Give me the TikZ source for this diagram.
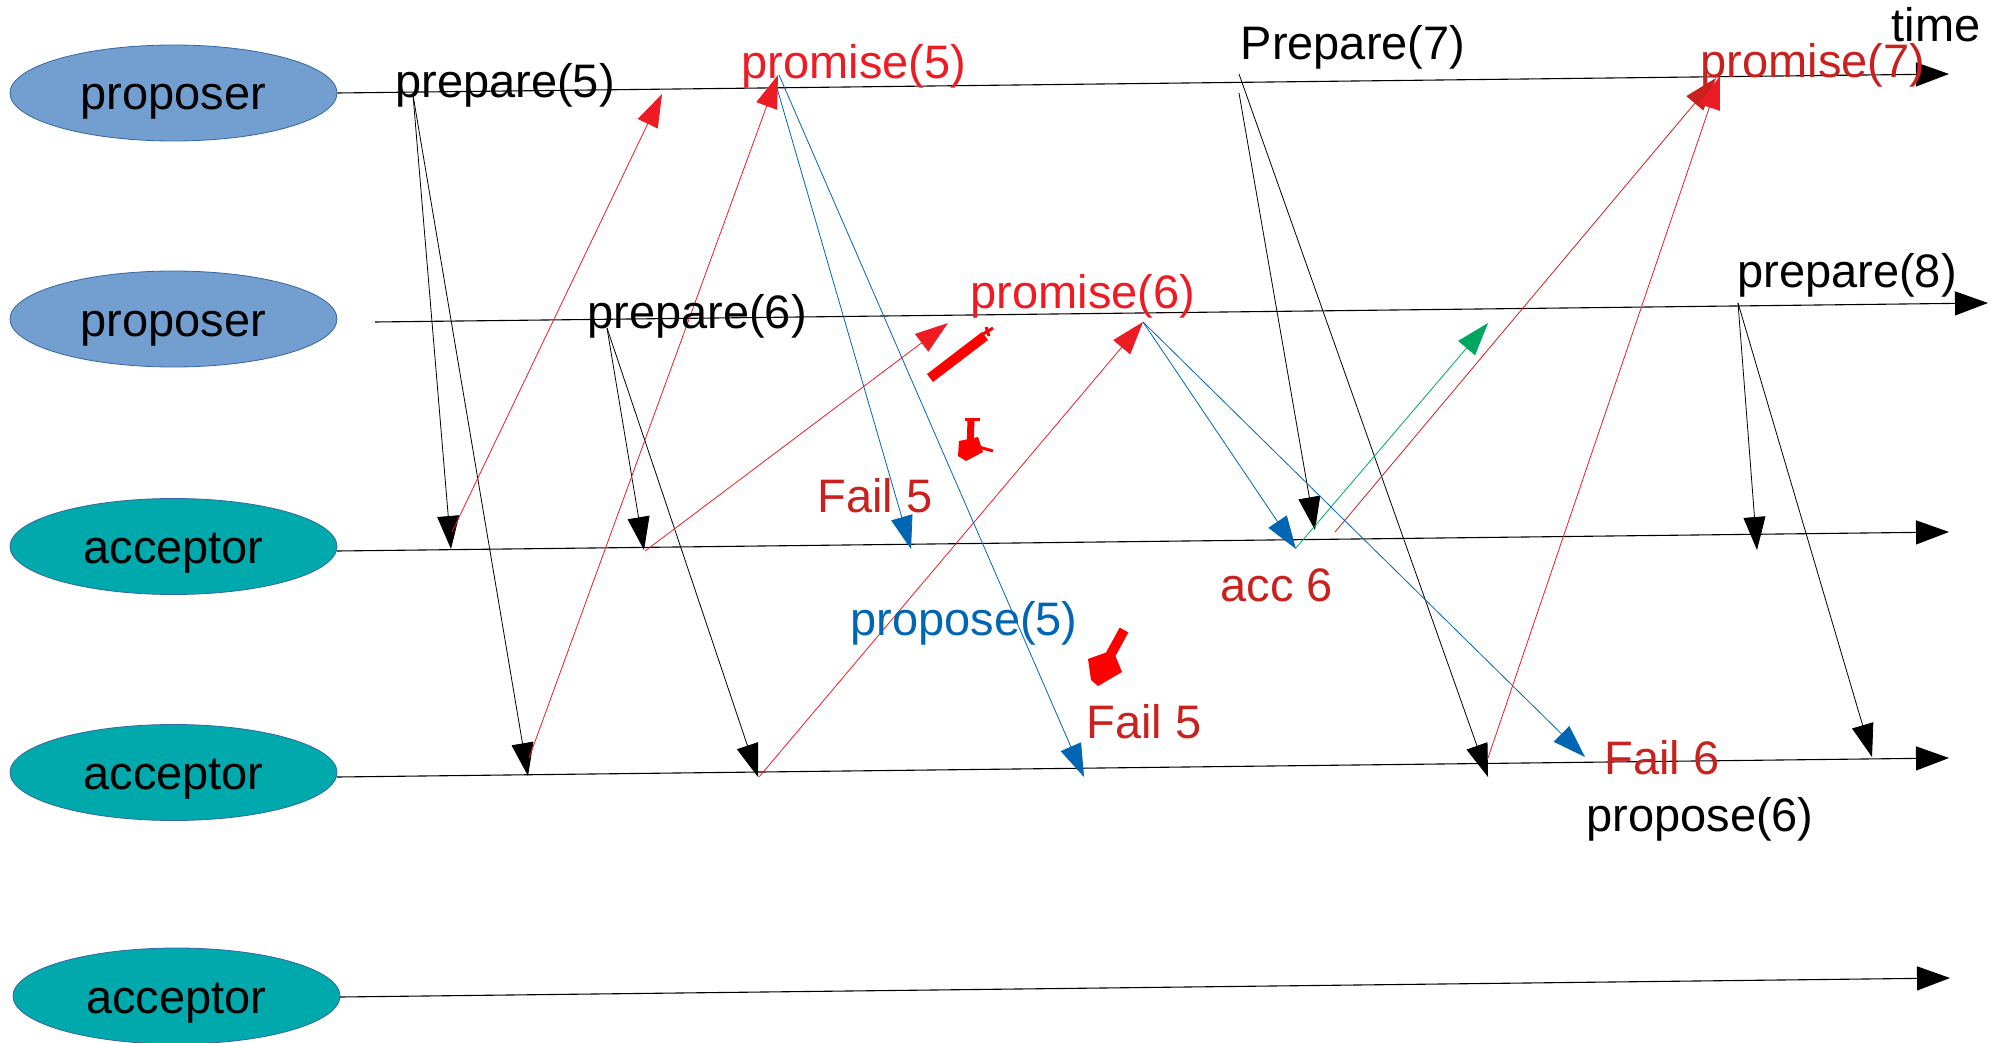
\documentclass[tikz,border=0pt]{standalone}
\usepackage{fontspec}
\setmainfont{Liberation Sans}
\usetikzlibrary{arrows.meta,shapes.geometric}
\definecolor{propfill}{HTML}{729FCF}
\definecolor{accfill}{HTML}{00A9AC}
\definecolor{edgeblue}{HTML}{3465A4}
\definecolor{msgred}{HTML}{ED1C24}
\definecolor{darkred}{HTML}{C9211E}
\definecolor{msgblue}{HTML}{0066B3}
\definecolor{msggreen}{HTML}{00A65D}
\definecolor{scrib}{HTML}{FF0000}
\begin{document}
\begin{tikzpicture}[x=1pt,y=-1pt,
  font=\fontsize{47pt}{52pt}\selectfont,
  actor/.style={ellipse, draw=edgeblue, line width=0.8pt, minimum width=327pt,
    minimum height=96pt, inner sep=0pt, text height=34pt, text depth=0pt},
  proposerbox/.style={actor, fill=propfill},
  acceptorbox/.style={actor, fill=accfill},
  lifeline/.style={line width=1.1pt, -{Triangle[length=33pt,width=24pt]}},
  msg/.style={line width=0.8pt, -{Triangle[length=33pt,width=22pt]}},
  lbl/.style={anchor=base, inner sep=0pt},
  scribble/.style={draw=scrib, line width=10pt}]
\useasboundingbox (0,0) rectangle (1989,1043);

% actors
\node[proposerbox] (P1) at (173.5,93) {proposer};
\node[proposerbox] (P2) at (173.5,319) {proposer};
\node[acceptorbox] (A1) at (173.5,546.5) {acceptor};
\node[acceptorbox] (A2) at (173.5,772.5) {acceptor};
\node[acceptorbox] (A3) at (176.5,996) {acceptor};

% lifeline coordinates
\coordinate (P1e) at (1949,74);
\coordinate (P2s) at (375,322);
\coordinate (P2e) at (1988,303);
\coordinate (A1s) at (337,551);
\coordinate (A1e) at (1949,532);
\coordinate (A2s) at (337,777);
\coordinate (A2e) at (1949,758);
\coordinate (A3s) at (340,997);
\coordinate (A3e) at (1950,978);

\draw[lifeline] (P1.east) -- (P1e);
\draw[lifeline] (P2s) -- (P2e);
\draw[lifeline] (A1s) -- (A1e);
\draw[lifeline] (A2s) -- (A2e);
\draw[lifeline] (A3s) -- (A3e);

% event coordinates
\coordinate (prep5) at (413,95);
\coordinate (prep5a1) at (451,549);
\coordinate (prep5a2) at (528,776);
\coordinate (prep6) at (607,328);
\coordinate (prep6a1) at (644,550);
\coordinate (prep6a2) at (758,777);
\coordinate (prep7a) at (1239,93);
\coordinate (prep7b) at (1239,74);
\coordinate (prep7a1) at (1315,530);
\coordinate (prep7a2) at (1488,777);
\coordinate (prep8) at (1738,303);
\coordinate (prep8a1) at (1757,550);
\coordinate (prep8a2) at (1872,757);

\coordinate (prom5s1) at (452,532);
\coordinate (prom5t1) at (662,94);
\coordinate (prom5s2) at (529,758);
\coordinate (prom5t2) at (778,75);
\coordinate (prom6s1) at (645,551);
\coordinate (prom6t1) at (948,323);
\coordinate (prom6s2) at (759,777);
\coordinate (prom6t2) at (1143,322);
\coordinate (prom7s1) at (1335,532);
\coordinate (prom7t1) at (1716,78);
\coordinate (prom7s2) at (1488,758);
\coordinate (prom7t2) at (1720,76);
\coordinate (acc6s) at (1296,548);
\coordinate (acc6t) at (1488,323);

\coordinate (prop5s) at (779,75);
\coordinate (prop5sb) at (777,88);
\coordinate (prop5a1) at (911,549);
\coordinate (prop5a2) at (1084,777);
\coordinate (prop6a1) at (1296,549);
\coordinate (prop6a2) at (1585,757);

% prepare messages
\draw[msg] (prep5) -- (prep5a1);
\draw[msg] (prep5) -- (prep5a2);
\draw[msg] (prep6) -- (prep6a1);
\draw[msg] (prep6) -- (prep6a2);
\draw[msg] (prep7a) -- (prep7a1);
\draw[msg] (prep7b) -- (prep7a2);
\draw[msg] (prep8) -- (prep8a1);
\draw[msg] (prep8) -- (prep8a2);

% promise messages
\draw[msg, msgred] (prom5s1) -- (prom5t1);
\draw[msg, msgred] (prom5s2) -- (prom5t2);
\draw[msg, msgred] (prom6s1) -- (prom6t1);
\draw[msg, msgred] (prom6s2) -- (prom6t2);
\draw[msg, darkred] (prom7s1) -- (prom7t1);
\draw[msg, msgred] (prom7s2) -- (prom7t2);
\draw[msg, msggreen] (acc6s) -- (acc6t);

% propose messages
\draw[msg, msgblue] (prop5sb) -- (prop5a1);
\draw[msg, msgblue] (prop5s) -- (prop5a2);
\draw[msg, msgblue] (prom6t2) -- (prop6a1);
\draw[msg, msgblue] (prom6t2) -- (prop6a2);

% labels
\node[lbl] (l1) at (505,98) {prepare(5)};
\node[lbl, text=msgred] (l2) at (854,79) {promise(5)};
\node[lbl] (l3) at (1353,60) {Prepare(7)};
\node[lbl] (l4) at (1936,42) {time};
\node[lbl, text=darkred] (l5) at (1813,78) {promise(7)};
\node[lbl] (l6) at (697,328) {prepare(6)};
\node[lbl, text=msgred] (l7) at (1083,308) {promise(6)};
\node[lbl] (l8) at (1847,287) {prepare(8)};
\node[lbl, text=darkred] (l9) at (875,512) {Fail 5};
\node[lbl, text=darkred] (l10) at (1277,601) {acc 6};
\node[lbl, text=msgblue] (l11) at (964,635) {propose(5)};
\node[lbl, text=darkred] (l12) at (1144,738) {Fail 5};
\node[lbl, text=darkred] (l13) at (1662,774) {Fail 6};
\node[lbl] (l14) at (1700,831) {propose(6)};

% red scribbles
\draw[scribble] (930,378) -- (985,336);
\draw[draw=scrib, line width=3pt] (983,334) -- (993,328);
\draw[draw=scrib, line width=3pt] (986,327) -- (989,336);
\draw[draw=scrib, line width=7pt] (971,420) -- (970,448);
\draw[draw=scrib, line width=3pt] (965,419) -- (980,419);
\fill[scrib] (959,441) -- (978,437) -- (983,452) -- (966,461) -- (958,456) -- cycle;
\draw[draw=scrib, line width=3pt] (975,446) -- (993,451);
\draw[scribble] (1124,630) -- (1106,663);
\fill[scrib] (1088,659) -- (1113,650) -- (1122,672) -- (1098,686) -- (1091,680) -- cycle;
\end{tikzpicture}
\end{document}
